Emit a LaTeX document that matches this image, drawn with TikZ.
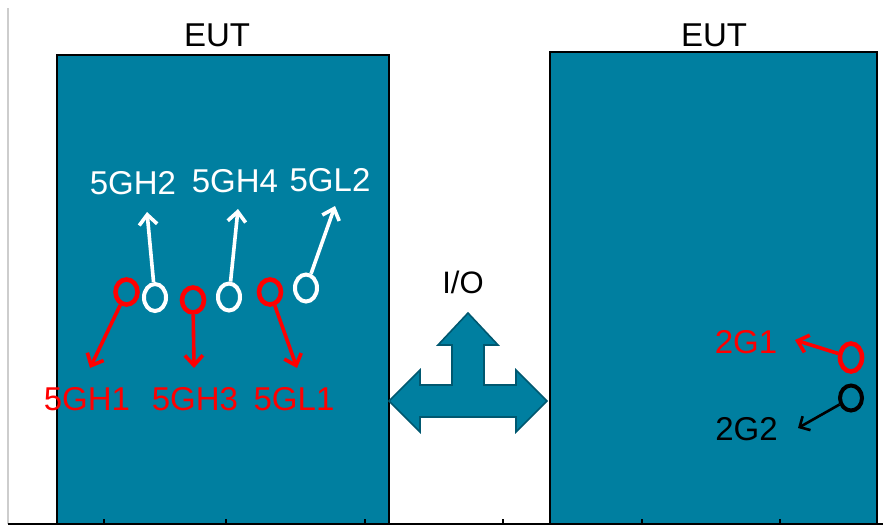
\documentclass[tikz,border=0pt]{standalone}
\usepackage{fontspec}
\setmainfont{Liberation Sans}
\usepackage{tikz}
\usetikzlibrary{shapes.geometric, arrows.meta, positioning}
\definecolor{myteal}{RGB}{0,127,160}
\definecolor{mytealdark}{RGB}{0,88,112}
\definecolor{myred}{RGB}{255,0,0}
\definecolor{mygrey}{RGB}{205,205,205}
\tikzset{
  eutbox/.style={rectangle, draw=black, fill=myteal, line width=0.6pt, inner sep=0pt},
  eutlabel/.style={font=\fontsize{16.5}{19}\selectfont, text=black, inner sep=0pt},
  redant/.style={ellipse, draw=myred, line width=2.3pt,
    minimum width=11pt, minimum height=12.5pt, inner sep=0pt},
  whiteant/.style={ellipse, draw=white, line width=2pt,
    minimum width=11pt, minimum height=13.5pt, inner sep=0pt},
  blackant/.style={ellipse, draw=black, line width=2pt,
    minimum width=11pt, minimum height=12.5pt, inner sep=0pt},
  redlabel/.style={font=\fontsize{16.5}{19}\selectfont, text=myred, inner sep=0pt},
  whitelabel/.style={font=\fontsize{16.5}{19}\selectfont, text=white, inner sep=0pt},
  blacklabel/.style={font=\fontsize{16.5}{19}\selectfont, text=black, inner sep=0pt},
  redarrow/.style={-{Straight Barb[length=5pt, width=9pt]}, line width=1.8pt, color=myred},
  whitearrow/.style={-{Straight Barb[length=5pt, width=9pt]}, line width=1.8pt, color=white},
  blackarrow/.style={-{Straight Barb[length=4pt, width=8pt]}, line width=1.3pt, color=black}
}

\begin{document}
\begin{tikzpicture}[x=0.5pt, y=-0.5pt]
  \useasboundingbox[fill=white] (0,0) rectangle (883,527);

  % EUT boxes
  \node[eutbox, minimum width=166pt, minimum height=234.5pt] (eutL) at (223,289.5) {};
  \node[eutbox, minimum width=163.5pt, minimum height=236pt] (eutR) at (713.5,288) {};
  \node[eutlabel] (eutLlbl) at (217,35) {EUT};
  \node[eutlabel] (eutRlbl) at (714,35) {EUT};

  % axes
  \draw[mygrey, line width=0.6pt] (8,8) -- (8,524);
  \draw[black, line width=0.8pt] (8,524) -- (883,524);
  \foreach \x in {104,226,365,503,642,780}
    \draw[black, line width=0.6pt] (\x,524) -- (\x,519);

  % I/O arrow
  \node[font=\fontsize{15.5}{18}\selectfont, inner sep=0pt] (io) at (463,282) {I/O};
  \draw[fill=myteal, draw=mytealdark, line width=0.8pt, line join=miter]
    (389,401) -- (420,370) -- (420,385) -- (452,385) -- (452,345) -- (438,345)
    -- (468,313) -- (498,345) -- (484,345) -- (484,385) -- (516,385) -- (516,370)
    -- (547,401) -- (516,432) -- (516,417) -- (420,417) -- (420,432) -- cycle;

  % left EUT antennas
  \node[redant] (r1) at (126.5,292) {};
  \node[whiteant] (w1) at (155,297.5) {};
  \node[redant] (r2) at (193,300) {};
  \node[whiteant] (w2) at (229,297) {};
  \node[redant] (r3) at (270,292) {};
  \node[whiteant] (w3) at (306,288) {};

  \coordinate (r1tip) at (90,368);
  \coordinate (r2tip) at (194,368);
  \coordinate (r3tip) at (297,368);
  \coordinate (w1tip) at (147,212);
  \coordinate (w2tip) at (238,209);
  \coordinate (w3tip) at (335,206);

  \draw[redarrow] (r1) -- (r1tip);
  \draw[redarrow] (r2) -- (r2tip);
  \draw[redarrow] (r3) -- (r3tip);
  \draw[whitearrow] (w1) -- (w1tip);
  \draw[whitearrow] (w2) -- (w2tip);
  \draw[whitearrow] (w3) -- (w3tip);

  \node[redlabel] (l5gh1) at (87,399.5) {5GH1};
  \node[redlabel] (l5gh3) at (195,399.5) {5GH3};
  \node[redlabel] (l5gl1) at (294,399.5) {5GL1};
  \node[whitelabel] (l5gh2) at (133,183.5) {5GH2};
  \node[whitelabel] (l5gh4) at (235,181.5) {5GH4};
  \node[whitelabel] (l5gl2) at (330,180) {5GL2};

  % right EUT antennas
  \node[redant, minimum height=14pt] (g1) at (851,357.5) {};
  \node[blackant] (g2) at (851,398) {};
  \coordinate (g1tip) at (795,340);
  \coordinate (g2tip) at (798,428);
  \draw[redarrow] (g1) -- (g1tip);
  \draw[blackarrow] (g2) -- (g2tip);
  \node[redlabel] (l2g1) at (746,342.5) {2G1};
  \node[blacklabel] (l2g2) at (746.5,429) {2G2};
\end{tikzpicture}
\end{document}
